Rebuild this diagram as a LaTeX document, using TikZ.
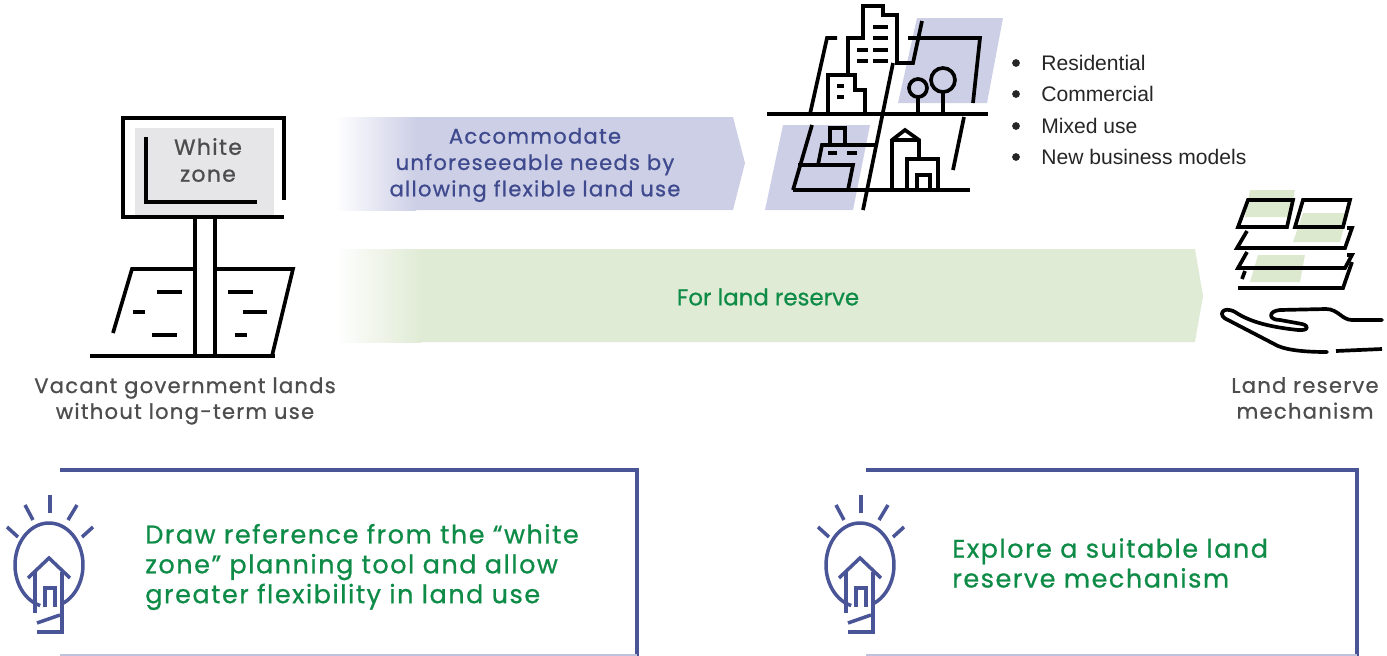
\documentclass[tikz,border=0pt]{standalone}
\usepackage{fontspec}
\setmainfont{Poppins}[FakeBold=0.8]
\newfontfamily\widefont{Poppins}[LetterSpace=6, FakeBold=0.8]
\newfontfamily\listfont{Liberation Sans}
\usetikzlibrary{positioning}
\definecolor{bandblue}{HTML}{CDCFE6}
\definecolor{bandgreen}{HTML}{E0EBD5}
\definecolor{navy}{HTML}{4A5598}
\definecolor{textblue}{HTML}{3F4A8E}
\definecolor{leafgreen}{HTML}{0E8C47}
\definecolor{labelgray}{HTML}{4D4D4D}
\definecolor{signgray}{HTML}{E6E6E8}
\definecolor{fieldgreen}{HTML}{DDE9CF}
\definecolor{rulegray}{HTML}{BFC2DC}
\tikzset{
  icon/.style={line width=2.1pt, black},
  frame/.style={line width=2.2pt, navy},
  bulbline/.style={line width=2pt, navy},
  bandtext/.style={align=center, inner sep=0pt},
  caption/.style={text=labelgray, align=center, inner sep=0pt, font=\widefont\fontsize{12}{14.7}\selectfont},
  boxtext/.style={text=leafgreen, align=left, anchor=west, inner sep=0pt, font=\widefont\fontsize{14.5}{17}\selectfont},
}
\begin{document}
\begin{tikzpicture}[x=0.02cm, y=-0.02cm, line join=miter]
\useasboundingbox (0,0) rectangle (1387,656);

% sign board on the vacant plot
\fill[signgray] (135,128) rectangle (274,215);
\draw[icon] (284,200) -- (284,118) -- (123,118) -- (123,217) -- (284,217);
\draw[icon] (146,137) -- (146,202) -- (257,202);
\draw[icon] (195,217) -- (195,356);
\draw[icon] (215,217) -- (215,356);
\draw[icon] (90,356) -- (275,356);
\draw[icon] (113,333) -- (132,269) -- (195,269);
\draw[icon] (215,269) -- (293,269) -- (272,356);
\foreach \xa/\xb/\y in {157/182/292, 133/145/312, 152/177/335, 228/253/292, 243/267/312, 235/247/335}
  \draw[icon] (\xa,\y) -- (\xb,\y);
\node[text=labelgray, align=center, inner sep=0pt, font=\widefont\fontsize{12.5}{15.3}\selectfont] (zone) at (208,160) {White\\zone};
\node[caption] (vacant) at (185,401) {Vacant government lands\\without long-term use};

% the two bands
\shade[left color=white, right color=bandblue] (335,117) rectangle (416,210);
\fill[bandblue] (415,117) -- (733,117) -- (745,163) -- (733,210) -- (415,210) -- cycle;
\node[bandtext, text=textblue, font=\widefont\fontsize{12}{15}\selectfont] (flexible) at (535,165) {Accommodate\\unforeseeable needs by\\allowing flexible land use};
\shade[left color=white, right color=bandgreen] (335,249) rectangle (421,342);
\fill[bandgreen] (420,249) -- (1195,249) -- (1203,296) -- (1195,342) -- (420,342) -- cycle;
\node[bandtext, text=leafgreen, font=\fontsize{13}{15}\selectfont] (reserve) at (768,297) {For land reserve};

% city blocks
\fill[bandblue] (917,18) -- (1003,18) -- (987,103) -- (898,103) -- cycle;
\fill[bandblue] (783,125) -- (870,125) -- (853,210) -- (765,210) -- cycle;
\draw[icon] (767,114) -- (988,114);
\draw[icon] (793,190) -- (970,190);
\draw[icon] (810,114) -- (827,38) -- (837,38);
\draw[icon] (848,75) -- (848,38) -- (863,38) -- (863,6) -- (883,6) -- (883,15) -- (897,15) -- (897,63) -- (913,63) -- (922,21);
\draw[icon] (908,38) -- (980,38) -- (973,103);
\draw[icon] (893,63) -- (863,210);
\draw[icon] (828,114) -- (828,75) -- (855,75) -- (855,90) -- (865,90) -- (865,114);
\foreach \xa/\xb/\y in {837/844/86, 837/844/97, 873/888/27, 873/888/38, 857/868/50, 873/888/50, 857/868/61, 873/888/61}
  \draw[icon] (\xa,\y) -- (\xb,\y);
\draw[icon] (918,88) circle[radius=9];
\draw[icon] (918,97) -- (918,114);
\draw[icon] (943,80) circle[radius=12];
\draw[icon] (943,92) -- (943,114);
\draw[icon] (964,117) -- (953,170);
\draw[icon] (812,125) -- (793,190);
\draw[icon] (818,165) -- (822,145) -- (876,145);
\draw[icon] (830,145) -- (830,128) -- (845,128) -- (845,145);
\draw[icon] (798,165) -- (853,165) -- (848,190);
\draw[icon] (828,153) -- (837,153);
\draw[icon] (847,153) -- (857,153);
\draw[icon] (892,190) -- (892,140) -- (905,130) -- (919,140) -- (919,159);
\draw[icon] (892,140) -- (919,140);
\draw[icon] (907,190) -- (907,159) -- (938,159) -- (938,190);
\draw[icon] (917,190) -- (917,175) -- (930,175) -- (930,190);

% land uses
\foreach \y/\name/\txt in {63/res/Residential, 94/com/Commercial, 126/mix/Mixed use, 157/biz/New business models} {
  \fill[black!85] (1016,\y) circle (2.2pt);
  \node[anchor=west, inner sep=0pt, text=black!85, font=\listfont\fontsize{12}{14}\selectfont] (\name) at (1041,\y) {\txt};
}

% stacked land parcels over a hand
\fill[fieldgreen] (1250,190) -- (1295,190) -- (1290,217) -- (1245,217) -- cycle;
\fill[fieldgreen] (1303,213) -- (1348,213) -- (1340,242) -- (1293,242) -- cycle;
\fill[fieldgreen] (1258,255) -- (1305,255) -- (1300,282) -- (1250,282) -- cycle;
\draw[icon] (1248,200) -- (1293,200) -- (1287,227) -- (1238,227) -- cycle;
\draw[icon] (1303,200) -- (1350,200) -- (1343,227) -- (1295,227) -- cycle;
\draw[icon] (1247,231) -- (1237,248) -- (1345,248) -- (1352,228) -- (1347,228);
\draw[icon] (1247,252) -- (1238,268) -- (1345,268) -- (1352,255) -- (1347,255);
\draw[icon] (1238,288) -- (1343,288) -- (1352,262);
\draw[icon] (1245,271) -- (1242,279);
\draw[icon, line cap=round, line join=round] (1382,320) -- (1352,320) .. controls (1342,320) and (1338,309) .. (1326,309) -- (1280,310) .. controls (1268,311) and (1268,320) .. (1280,320) -- (1302,324) .. controls (1310,326) and (1308,331) .. (1298,330) .. controls (1270,327) and (1250,322) .. (1235,312) .. controls (1222,305) and (1217,316) .. (1228,320) -- (1278,346) .. controls (1290,351) and (1310,352) .. (1327,352);
\draw[icon] (1336,351) -- (1382,349);
\node[caption] (mechanism) at (1305,398) {Land reserve\\mechanism};

% the two recommendation boxes
\draw[frame] (60,470) -- (637,470) -- (637,656);
\draw[frame] (866,470) -- (1357,470) -- (1357,656);
\draw[rulegray, line width=1pt] (60,655) -- (637,655);
\draw[rulegray, line width=1pt] (866,655) -- (1357,655);
\foreach \bx in {0,811} {
  \draw[bulbline] (\bx+50,495) -- (\bx+50,513);
  \draw[bulbline] (\bx+25,505) -- (\bx+33,520);
  \draw[bulbline] (\bx+77,505) -- (\bx+68,520);
  \draw[bulbline] (\bx+7,527) -- (\bx+18,537);
  \draw[bulbline] (\bx+93,527) -- (\bx+82,537);
  \draw[bulbline] (\bx+49,565) ++(105:34 and 42) arc[start angle=105, end angle=425, x radius=34, y radius=42];
  \draw[bulbline] (\bx+28,578) -- (\bx+49,558) -- (\bx+70,578);
  \draw[bulbline] (\bx+35,572) -- (\bx+35,613);
  \draw[bulbline] (\bx+62,572) -- (\bx+62,632) -- (\bx+37,632);
  \draw[bulbline] (\bx+37,623) -- (\bx+60,615);
  \draw[bulbline] (\bx+45,607) -- (\bx+45,588) -- (\bx+55,588) -- (\bx+55,607);
}
\node[boxtext] (whitezone) at (145,567) {Draw reference from the “white\\zone” planning tool and allow\\greater flexibility in land use};
\node[boxtext] (explore) at (952,563) {Explore a suitable land\\reserve mechanism};
\end{tikzpicture}
\end{document}
